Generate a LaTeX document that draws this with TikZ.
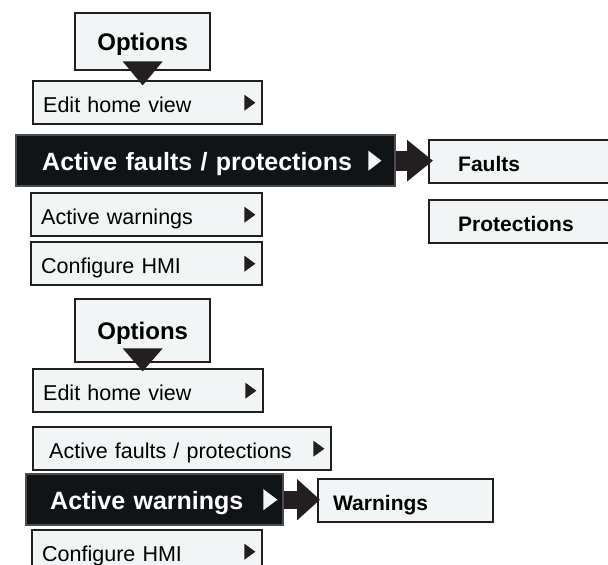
\documentclass[tikz,border=0pt]{standalone}
\usepackage{fontspec}
\setmainfont{Liberation Sans}
\usetikzlibrary{arrows.meta,positioning}
\definecolor{hmi-ink}{HTML}{231F20}
\definecolor{hmi-fill}{HTML}{F2F5F6}
\definecolor{hmi-dark}{HTML}{111416}

\begin{document}
\begin{tikzpicture}[x=1pt, y=-1pt,
  item/.style={rectangle, draw=hmi-ink, fill=hmi-fill, line width=2.4pt,
               anchor=north west, minimum height=43pt, inner xsep=10pt,
               align=left, text height=20pt, text depth=0pt,
               font=\fontsize{21.5}{24}\selectfont},
  hot/.style={item, draw=black!70, fill=hmi-dark, text=white, inner xsep=26pt,
              minimum height=51pt, font=\fontsize{25}{28}\selectfont\bfseries},
  sub/.style={item, font=\fontsize{21}{24}\selectfont\bfseries},
  title/.style={item, align=center, minimum width=135pt, minimum height=57pt,
                text height=18pt, font=\fontsize{24}{28}\selectfont\bfseries},
  tick/.style={fill=hmi-ink},
  jump/.style={line width=20pt, hmi-ink, -{Triangle[length=26pt, width=40pt]}}
]
  \useasboundingbox (0,0) rectangle (608,565);

  % Menu with faults / protections opened
  \node[title] (opt1) at (74,12) {Options};
  \node[item, minimum width=229pt, text width=209pt] (edit1) at (32,80) {Edit home view};
  \node[hot, minimum width=379pt, text width=327pt] (act1) at (15,134) {Active faults / protections};
  \node[item, minimum width=231pt, text width=211pt] (warn1) at (30,192) {Active warnings};
  \node[item, minimum width=231pt, text width=211pt] (conf1) at (30,241) {Configure HMI};
  \node[sub, minimum width=186pt, inner xsep=29pt, text width=128pt] (faults) at (428,139) {Faults};
  \node[sub, minimum width=186pt, inner xsep=29pt, text width=128pt] (prots) at (428,199) {Protections};

  % Menu with warnings opened
  \node[title, minimum height=63pt] (opt2) at (74,298) {Options};
  \node[item, minimum width=230pt, text width=210pt] (edit2) at (32,368) {Edit home view};
  \node[item, minimum width=298pt, inner xsep=16pt, text width=266pt] (actf2) at (32,426) {Active faults / protections};
  \node[hot, minimum width=257pt, inner xsep=24pt, text width=209pt] (actw2) at (25,473) {Active warnings};
  \node[item, minimum width=230pt, text width=210pt] (conf2) at (31,529) {Configure HMI};
  \node[sub, minimum width=175pt, inner xsep=15pt, text width=145pt] (warns) at (317,478) {Warnings};

  % pointers
  \fill[tick] (opt1.south) ++(-20,-10) -- ++(40,0) -- ++(-20,24) -- cycle;
  \fill[tick] (opt2.south) ++(-20,-15) -- ++(40,0) -- ++(-20,23) -- cycle;
  \foreach \m in {edit1,warn1,conf1,edit2,actf2,conf2}
    \fill[tick] (\m.east) ++(-19,-8) -- ++(11,8) -- ++(-11,8) -- cycle;
  \fill[hmi-fill] (act1.east) ++(-28,-10) -- ++(13,10) -- ++(-13,10) -- cycle;
  \fill[hmi-fill] (actw2.east) ++(-21,-10.5) -- ++(14,10.5) -- ++(-14,10.5) -- cycle;

  % submenu arrows
  \draw[jump] (act1.east) -- ([xshift=5pt]act1.east -| faults.west);
  \draw[jump, line width=18pt, -{Triangle[length=23pt, width=40pt]}]
    (actw2.east) -- ([xshift=3pt]actw2.east -| warns.west);
\end{tikzpicture}
\end{document}
